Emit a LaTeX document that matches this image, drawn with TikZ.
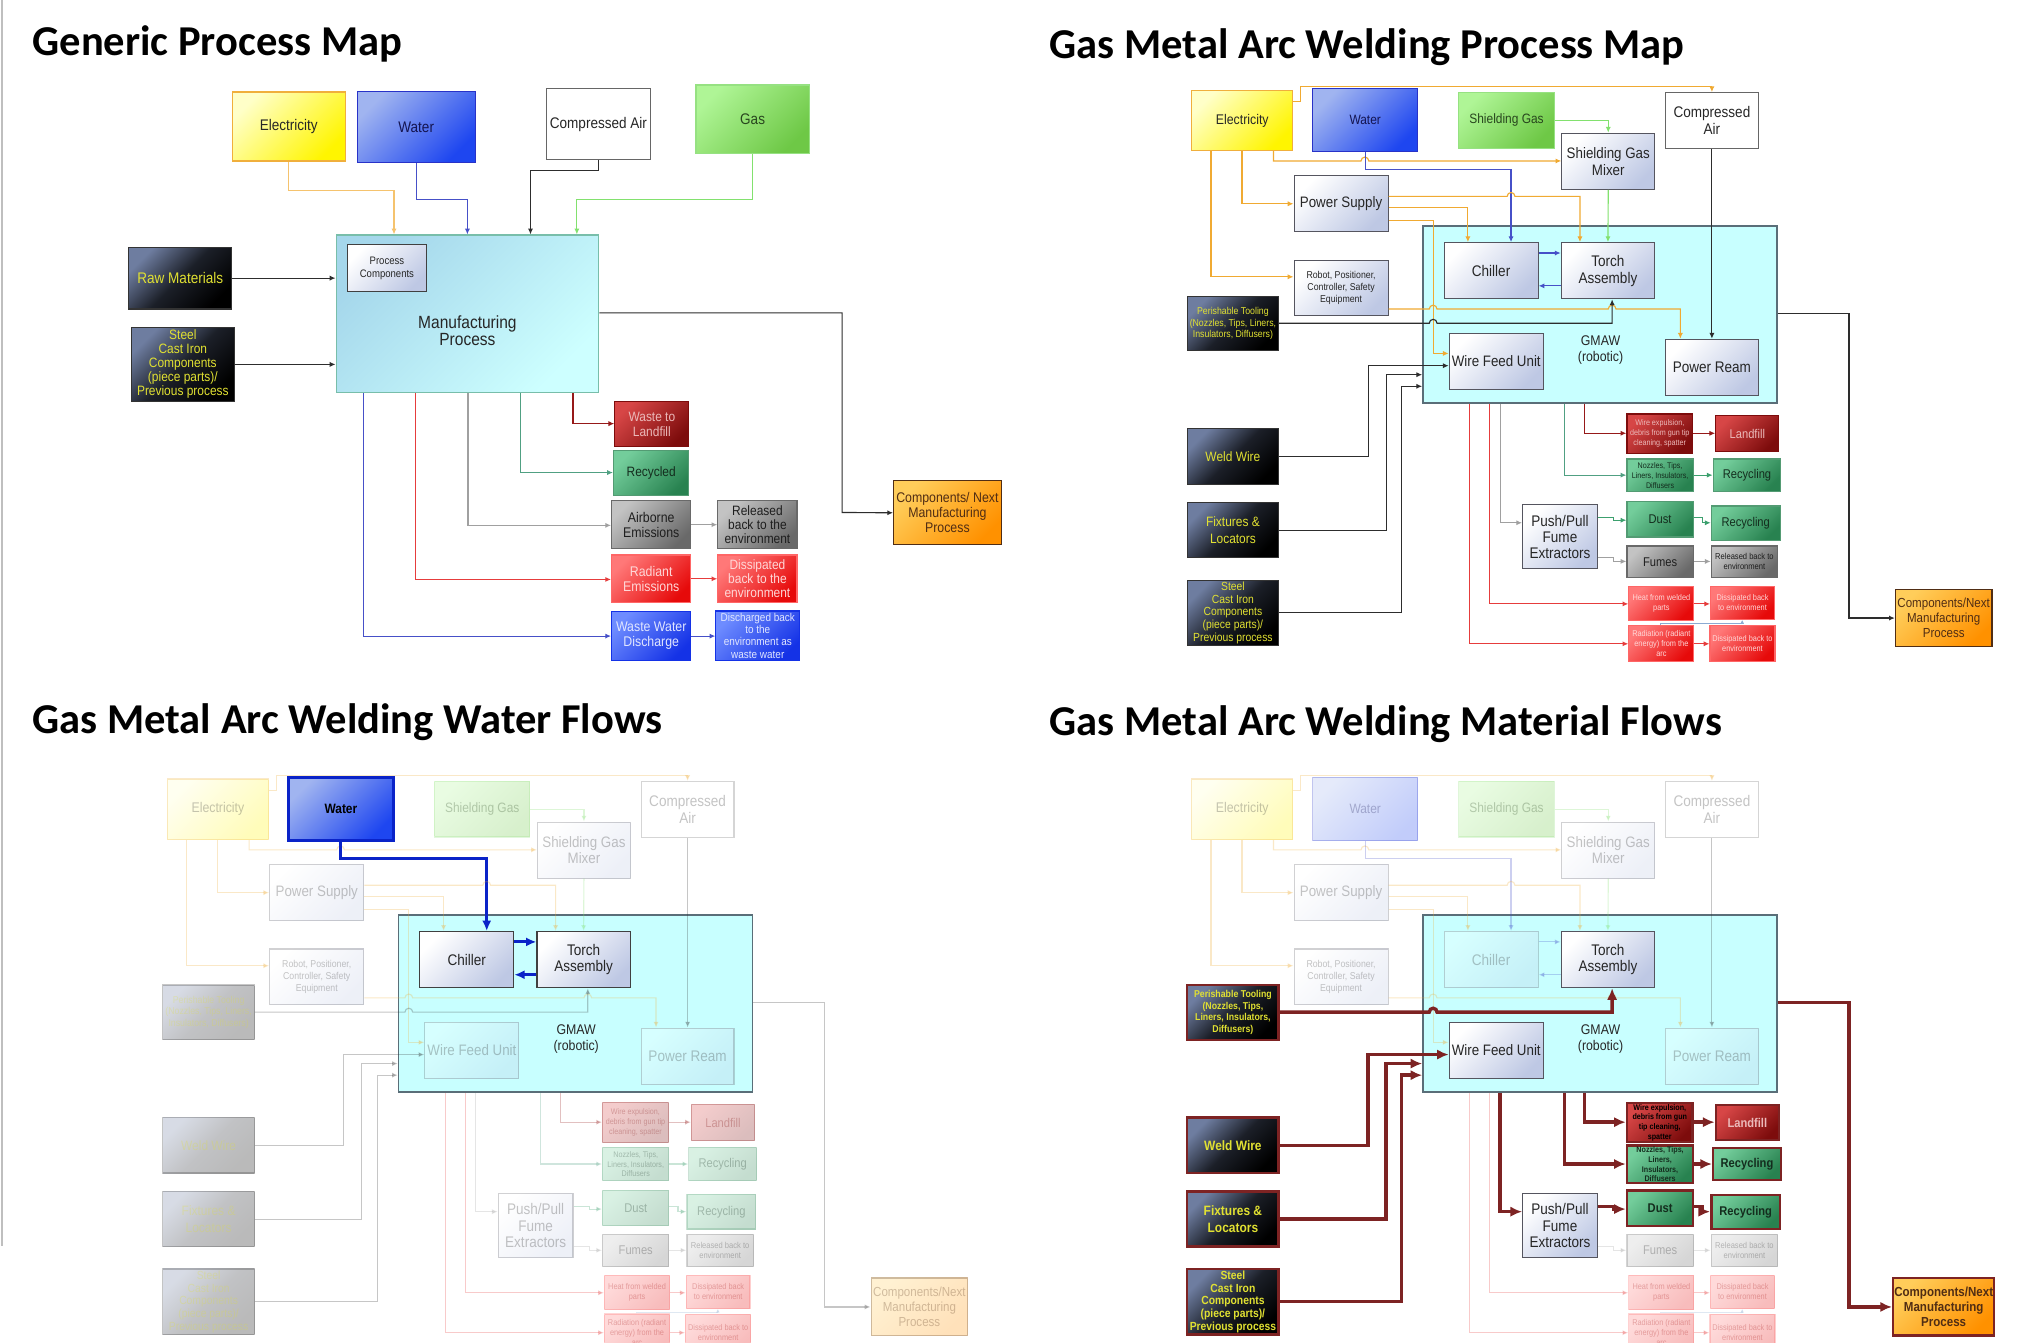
\documentclass[tikz,border=0pt]{standalone}
\usepackage{fontspec}
\setmainfont{Liberation Sans}
\newfontfamily\bxf[FakeStretch=0.88]{Liberation Sans}
\newfontfamily\ttlf{Carlito}
\usetikzlibrary{arrows.meta}

\definecolor{elecA}{RGB}{255,255,200}
\definecolor{elecB}{RGB}{255,245,0}
\definecolor{elecL}{RGB}{240,175,60}
\definecolor{waterA}{RGB}{160,180,240}
\definecolor{waterB}{RGB}{30,70,240}
\definecolor{waterL}{RGB}{40,50,200}
\definecolor{waterT}{RGB}{20,20,80}
\definecolor{gasA}{RGB}{175,245,150}
\definecolor{gasB}{RGB}{110,200,70}
\definecolor{gasL}{RGB}{150,225,130}
\definecolor{gasT}{RGB}{40,70,30}
\definecolor{blkA}{RGB}{110,125,160}
\definecolor{blkT}{RGB}{225,225,50}
\definecolor{liteB}{RGB}{190,200,228}
\definecolor{liteL}{RGB}{85,85,95}
\definecolor{cyanF}{RGB}{200,255,255}
\definecolor{cyanL}{RGB}{90,110,120}
\definecolor{mpA}{RGB}{165,215,235}
\definecolor{mpB}{RGB}{205,255,255}
\definecolor{mpL}{RGB}{120,190,170}
\definecolor{dredA}{RGB}{215,70,70}
\definecolor{dredB}{RGB}{125,12,12}
\definecolor{dredT}{RGB}{235,185,185}
\definecolor{grnA}{RGB}{115,205,155}
\definecolor{grnB}{RGB}{40,130,80}
\definecolor{grnT}{RGB}{20,45,30}
\definecolor{gryA}{RGB}{195,195,195}
\definecolor{gryB}{RGB}{105,105,105}
\definecolor{gryT}{RGB}{30,30,30}
\definecolor{redA}{RGB}{255,120,120}
\definecolor{redB}{RGB}{230,10,10}
\definecolor{redT}{RGB}{255,215,215}
\definecolor{bluA}{RGB}{110,140,255}
\definecolor{bluB}{RGB}{20,50,230}
\definecolor{bluT}{RGB}{225,230,255}
\definecolor{orgA}{RGB}{255,205,90}
\definecolor{orgB}{RGB}{255,145,0}
\definecolor{orgL}{RGB}{80,45,20}
\definecolor{lnOrg}{RGB}{240,170,50}
\definecolor{lnOrgL}{RGB}{245,195,110}
\definecolor{lnBlu}{RGB}{70,80,200}
\definecolor{lnGrn}{RGB}{130,225,110}
\definecolor{lnBlk}{RGB}{45,45,45}
\definecolor{lnGry}{RGB}{160,160,160}
\definecolor{lnDred}{RGB}{150,25,25}
\definecolor{lnTeal}{RGB}{80,160,130}
\definecolor{lnGrnD}{RGB}{60,160,110}
\definecolor{lnRed}{RGB}{230,60,60}
\definecolor{lnSteel}{RGB}{140,170,210}
\definecolor{matC}{RGB}{125,35,35}
\definecolor{hlBlu}{RGB}{10,35,200}

\tikzset{
  plainbox/.style={draw=liteL, line width=0.5pt, inner sep=0.5pt, align=center},
  gr/.style 2 args={top color=#1, bottom color=#2, shading angle=45},
  ft/.style 2 args={font=\bxf\fontsize{#1}{#2}\selectfont},
  ttl/.style={anchor=base west, inner sep=0pt, font=\ttlf\bfseries\fontsize{18.8}{22}\selectfont},
  elecbox/.style={plainbox, gr={elecA}{elecB}, draw=elecL, text=black!85},
  waterbox/.style={plainbox, gr={waterA}{waterB}, draw=waterL, text=waterT},
  gasbox/.style={plainbox, gr={gasA}{gasB}, draw=gasL, text=gasT},
  airbox/.style={plainbox, fill=white, draw=black!60, text=black!85},
  blkbox/.style={plainbox, gr={blkA}{black}, middle color=blkA!25!black, draw=black!80, text=blkT},
  litebox/.style={plainbox, gr={white}{liteB}, draw=liteL, text=black!85},
  holder/.style={plainbox, fill=cyanF, draw=cyanL, line width=0.6pt},
  mpbox/.style={plainbox, gr={mpA}{mpB}, draw=mpL},
  dredbox/.style={plainbox, gr={dredA}{dredB}, draw=dredB, text=dredT},
  grnbox/.style={plainbox, gr={grnA}{grnB}, draw=grnB!80!white, text=grnT},
  grybox/.style={plainbox, gr={gryA}{gryB}, draw=gryB, text=gryT},
  redbox/.style={plainbox, gr={redA}{redB}, draw=red!60!white, text=redT},
  blubox/.style={plainbox, gr={bluA}{bluB}, draw=bluB, text=bluT},
  orgbox/.style={plainbox, gr={orgA}{orgB}, draw=orgL, text=orgL},
  flow/.style={-{Latex[length=0.9mm,width=0.8mm]}, line width=0.5pt},
  fx/.code={\pgfkeysifdefined{/tikz/hl/#1/.@cmd}{\pgfkeysalso{/tikz/hl/#1}}{}},
  wtrbox/.style={opacity=1, draw=hlBlu, line width=1.2pt, text=black, execute at begin node=\bfseries},
  wtrln/.style={opacity=1, draw=hlBlu, line width=1.3pt, -{Latex[length=1.6mm,width=1.4mm]}},
  matbox/.style={opacity=1, draw=matC, line width=1.1pt, execute at begin node=\bfseries},
  matln/.style={opacity=1, draw=matC, line width=1.5pt, -{Latex[length=1.8mm,width=1.6mm]}},
  faded/.style={opacity=0.27, dredbox/.append style={text=dredB}, redbox/.append style={text=redB!70!black}}
}

% box from its corners: style, name, x1, y1, x2, y2, text
\newcommand{\boxat}[7]{\node[#1, minimum width={(#5-#3)*0.02cm}, minimum height={(#6-#4)*0.02cm}] (#2) at ({(#3+#5)/2},{(#4+#6)/2}) {#7};}

\newcommand{\perishtxt}{Perishable Tooling\\(Nozzles, Tips, Liners,\\Insulators, Diffusers)}
\newcommand{\wexptxt}{Wire expulsion,\\debris from gun tip\\cleaning, spatter}
\newcommand{\nozztxt}{Nozzles, Tips,\\Liners, Insulators,\\Diffusers}

% the GMAW map, drawn three times
\newcommand{\gmawmap}{%
  \boxat{holder, fx=gmaw}{gmaw}{1105}{175.5}{1380}{313}{}
  \node[ft={6.2}{7}, align=center, text=black!85, fx=gmaw] (gmawtxt) at (1243,272) {GMAW\\(robotic)};
  % utilities
  \boxat{elecbox, ft={6.2}{7}, fx=elec}{elec}{925.5}{70}{1004}{117}{Electricity}
  \boxat{waterbox, ft={6}{7}, fx=water}{water}{1019.5}{69}{1101}{118}{Water}
  \boxat{gasbox, ft={6}{7}, fx=sgas}{sgas}{1133}{72}{1207}{115}{Shielding Gas}
  \boxat{airbox, ft={6.8}{7.4}, fx=cair}{cair}{1293.5}{72}{1365.5}{115.5}{Compressed\\Air}
  \boxat{litebox, ft={6.7}{7.4}, fx=mixer}{mixer}{1213}{103.5}{1285}{147}{Shielding Gas\\Mixer}
  \boxat{litebox, ft={6.7}{7.4}, fx=psup}{psup}{1005}{136.5}{1078}{180}{Power Supply}
  \boxat{litebox, ft={4.4}{5.3}, fx=robot}{robot}{1005}{202}{1078}{245}{Robot, Positioner,\\Controller, Safety\\Equipment}
  \boxat{litebox, ft={6.8}{7.4}, fx=chill}{chill}{1121.5}{188.5}{1194.5}{232}{Chiller}
  \boxat{litebox, ft={6.8}{7.4}, fx=torch}{torch}{1212.5}{188.5}{1285}{232}{Torch\\Assembly}
  \boxat{litebox, ft={6.7}{7.4}, fx=wfu}{wfu}{1125.5}{259}{1198.5}{302.5}{Wire Feed Unit}
  \boxat{litebox, ft={6.8}{7.4}, fx=ream}{ream}{1293.5}{263.5}{1365.5}{307}{Power Ream}
  % material inputs
  \boxat{blkbox, ft={4.4}{5.2}, fx=perish}{perish}{922}{230}{993}{272.5}{\perishtxt}
  \boxat{blkbox, ft={6}{7.2}, fx=weld}{weld}{922}{333}{993}{376}{Weld Wire}
  \boxat{blkbox, ft={6}{7.2}, fx=fix}{fix}{922}{390.5}{993}{433}{Fixtures \&\\Locators}
  \boxat{blkbox, ft={5.2}{5.6}, fx=steel}{steel}{922}{450.5}{993}{501.5}{Steel\\Cast Iron\\Components\\(piece parts)/\\Previous process}
  % outputs
  \boxat{dredbox, ft={3.6}{4.3}, fx=wexp}{wexp}{1263.5}{321.5}{1314.5}{352}{\wexptxt}
  \boxat{dredbox, ft={5.6}{6.5}, fx=landf}{landf}{1332.5}{323}{1381.5}{350.5}{Landfill}
  \boxat{grnbox, ft={3.6}{4.3}, fx=nozz}{nozz}{1263.5}{356.5}{1315}{382}{\nozztxt}
  \boxat{grnbox, ft={5.6}{6.5}, fx=recy1}{recy1}{1330.5}{356.5}{1383}{381.5}{Recycling}
  \boxat{litebox, ft={6.8}{7.1}, fx=push}{push}{1182.5}{392}{1240.5}{441.5}{Push/Pull\\Fume\\Extractors}
  \boxat{grnbox, ft={5.6}{6.5}, fx=dust}{dust}{1263.5}{389.5}{1315}{417}{Dust}
  \boxat{grnbox, ft={5.6}{6.5}, fx=recy2}{recy2}{1329}{393}{1382.5}{419.5}{Recycling}
  \boxat{grybox, ft={5.6}{6.5}, fx=fumes}{fumes}{1263.5}{424}{1315}{448.5}{Fumes}
  \boxat{grybox, ft={3.8}{4.5}, fx=rel}{rel}{1329}{424}{1380.5}{448.5}{Released back to\\environment}
  \boxat{redbox, ft={3.7}{4.4}, fx=heat}{heat}{1265}{455.5}{1315.5}{482}{Heat from welded\\parts}
  \boxat{redbox, ft={3.7}{4.4}, fx=diss1}{diss1}{1328.5}{455.5}{1378}{481}{Dissipated back\\to environment}
  \boxat{redbox, ft={3.7}{4.4}, fx=rad}{rad}{1265}{485.5}{1315.5}{514}{Radiation (radiant\\energy) from the\\arc}
  \boxat{redbox, ft={3.7}{4.4}, fx=diss2}{diss2}{1328}{486}{1378.5}{514}{Dissipated back to\\environment}
  \boxat{orgbox, ft={5.8}{6.6}, fx=comp}{comp}{1472}{457.5}{1547}{502}{Components/Next\\Manufacturing\\Process}
  % utility lines
  \draw[flow, lnOrg, fx=e1] (elec.east |- 0,79) -| (1010,67) -| (cair.north);
  \draw[flow, lnOrg, fx=e2] (elec.south -| 940.5,0) |- (robot.west |- 0,215);
  \draw[flow, lnOrg, fx=e3] (elec.south -| 964.5,0) |- (psup.west);
  \draw[flow, lnOrg, fx=e4] (elec.south -| 989,0) |- (1057,125) arc[start angle=180, end angle=360, radius=3] -- (mixer.west |- 0,125);
  \draw[flow, lnBlu, fx=ewater] (water.south) |- (1173.5,131.5) -- (chill.north -| 1173.5,0);
  \draw[flow, lnGrn, fx=e5] (sgas.east) -| (mixer.north);
  \draw[flow, lnGrn, fx=e6] (mixer.south) -- (torch.north);
  \draw[flow, lnBlk, fx=e7] (cair.south) -- (ream.north);
  \draw[flow, lnOrg, fx=e8] (psup.east |- 0,152.5) -- (1170.5,152.5) arc[start angle=180, end angle=360, radius=3] -| (torch.north -| 1227,0);
  \draw[flow, lnOrg, fx=e9] (psup.east |- 0,161) -| (chill.north -| 1140,0);
  \draw[flow, lnOrg, fx=e10] (psup.east |- 0,171) -| (1113,274.5) -- (wfu.west |- 0,274.5);
  \draw[flow, lnOrg, fx=e11] (robot.east |- 0,240) -- (1110,240) arc[start angle=180, end angle=360, radius=3] -- (1249,240) arc[start angle=180, end angle=360, radius=3] -| (ream.north -| 1305,0);
  \draw[flow, lnBlu, fx=ewater] (chill.east |- 0,196.5) -- (torch.west |- 0,196.5);
  \draw[flow, lnBlu, fx=ewater] (torch.west |- 0,222) -- (chill.east |- 0,222);
  % material lines
  \draw[flow, lnBlk, fx=eperish] (perish.east |- 0,251) -- (1110,251) arc[start angle=180, end angle=360, radius=3] -| (torch.south -| 1252,0);
  \draw[flow, lnBlk, fx=eweld] (weld.east) -| (1062.5,284) -- (wfu.west |- 0,284);
  \draw[flow, lnBlk, fx=efix] (fix.east) -| (1076.5,291) -- (gmaw.west |- 0,291);
  \draw[flow, lnBlk, fx=esteel] (steel.east) -| (1088.5,300) -- (gmaw.west |- 0,300);
  \draw[flow, lnBlk, fx=ecomp] (gmaw.east |- 0,243.5) -| (1436,480) -- (comp.west |- 0,480);
  % outputs
  \draw[flow, lnRed, fx=erad] (gmaw.south -| 1141.5,0) |- (rad.west |- 0,500);
  \draw[flow, lnRed, fx=eheat] (gmaw.south -| 1157,0) |- (heat.west |- 0,469);
  \draw[flow, lnGry, fx=epush] (gmaw.south -| 1165,0) |- (push.west |- 0,406);
  \draw[flow, lnTeal, fx=enozz] (gmaw.south -| 1215,0) |- (nozz.west |- 0,369);
  \draw[flow, lnDred, fx=ewexp] (gmaw.south -| 1230.5,0) |- (wexp.west |- 0,336.5);
  \draw[flow, lnGrnD, fx=epd] (push.east |- 0,402) -- (1253,402) |- (dust.west |- 0,404);
  \draw[flow, lnGry, fx=epf] (push.east |- 0,433) -- (1253,433) |- (fumes.west |- 0,436);
  \draw[flow, lnGrnD, fx=edr] (dust.east |- 0,402) -- (1322,402) |- (recy2.west |- 0,406);
  \draw[flow, lnGrnD, fx=enr] (nozz.east |- 0,369) -- (recy1.west |- 0,369);
  \draw[flow, lnDred, fx=ewl] (wexp.east |- 0,336.5) -- (landf.west |- 0,336.5);
  \draw[flow, lnGry, fx=efr] (fumes.east |- 0,436) -- (rel.west |- 0,436);
  \draw[flow, lnRed, fx=ehd] (heat.east |- 0,469) -- (diss1.west |- 0,469);
  \draw[flow, lnRed, fx=erd] (rad.east |- 0,500) -- (diss2.west |- 0,500);
  \draw[lnSteel, line width=0.5pt, -{Latex[length=0.6mm,width=0.6mm]}, fx=erx] (rad.north -| 1289.5,0) |- (1353,484) -- (diss1.south -| 1353,0);
}

\begin{document}
\begin{tikzpicture}[x=0.02cm, y=-0.02cm]
  \useasboundingbox (0,0) rectangle (1568,1043);
  \clip (0,0) rectangle (1568,1043);
  \fill[white] (0,0) rectangle (1568,1043);
  \draw[black!25, line width=0.6pt] (1.5,0) -- (1.5,968);

  % ---- generic process map ----
  \node[ttl] (t1) at (25,43) {Generic Process Map};
  \boxat{elecbox, ft={6.8}{7.6}}{gelec}{180.5}{71.5}{268}{125}{Electricity}
  \boxat{waterbox, ft={6.8}{7.6}}{gwater}{277.5}{71}{369}{126}{Water}
  \boxat{airbox, ft={6.8}{7.6}}{gair}{424.5}{69}{505}{124}{Compressed Air}
  \boxat{gasbox, ft={6.8}{7.6}}{ggas}{540.5}{66}{628.5}{119}{Gas}
  \boxat{blkbox, ft={6.8}{7.6}}{graw}{100}{192}{180}{240}{Raw Materials}
  \boxat{blkbox, ft={6}{6.2}}{gsteel}{102}{254.5}{182}{311.5}{Steel\\Cast Iron\\Components\\(piece parts)/\\Previous process}
  \boxat{mpbox}{gmp}{261}{182.5}{465}{305}{}
  \node[ft={7.8}{7.7}, align=center, text=black!85] (gmptxt) at (363,257) {Manufacturing\\Process};
  \boxat{litebox, ft={4.8}{5.6}, draw=black!75}{gpc}{270}{190}{331}{226.5}{Process\\Components}
  \boxat{dredbox, ft={6}{6.6}}{glandf}{477.5}{312}{535}{346.5}{Waste to\\Landfill}
  \boxat{grnbox, ft={6}{6.6}}{grecy}{476.5}{350}{535}{385}{Recycled}
  \boxat{grybox, ft={6.2}{6.6}}{gairb}{475}{389}{536.5}{426}{Airborne\\Emissions}
  \boxat{grybox, ft={6}{6.3}}{grel}{557.5}{389}{619}{426}{Released\\back to the\\environment}
  \boxat{redbox, ft={6.2}{6.6}}{grad}{475}{431}{536.5}{468}{Radiant\\Emissions}
  \boxat{redbox, ft={6}{6.3}}{gdiss}{557.5}{431}{619}{468}{Dissipated\\back to the\\environment}
  \boxat{blubox, ft={6.2}{6.6}}{gww}{475}{475}{536.5}{513}{Waste Water\\Discharge}
  \boxat{blubox, ft={5}{5.4}}{gdis}{556}{474.5}{621}{513}{Discharged back\\to the\\environment as\\waste water}
  \boxat{orgbox, ft={6.2}{6.6}}{gcomp}{694}{373.5}{777.5}{423}{Components/ Next\\Manufacturing\\Process}
  \draw[flow, lnOrgL] (gelec.south) |- (306,148) -- (gmp.north -| 306,0);
  \draw[flow, lnBlu] (gwater.south) |- (363,155) -- (gmp.north -| 363,0);
  \draw[flow, lnBlk] (gair.south) |- (412,132.5) -- (gmp.north -| 412,0);
  \draw[flow, lnGrn] (ggas.south) |- (448,155) -- (gmp.north -| 448,0);
  \draw[flow, lnBlk] (graw.east) -- (gmp.west |- graw.east);
  \draw[flow, lnBlk] (gsteel.east) -- (gmp.west |- gsteel.east);
  \draw[flow, lnBlk] (gmp.east |- 0,243) -| (654,398) -- (gcomp.west);
  \draw[flow, lnDred] (gmp.south -| 445,0) |- (glandf.west |- 0,329);
  \draw[flow, lnTeal] (gmp.south -| 404,0) |- (grecy.west |- 0,367);
  \draw[flow, lnGry] (gmp.south -| 363.5,0) |- (gairb.west |- 0,408);
  \draw[flow, lnRed] (gmp.south -| 322.5,0) |- (grad.west |- 0,450);
  \draw[flow, lnBlu] (gmp.south -| 282,0) |- (gww.west |- 0,494);
  \draw[flow, lnGry] (gairb.east) -- (grel.west);
  \draw[flow, lnRed] (grad.east) -- (gdiss.west);
  \draw[flow, lnBlu] (gww.east) -- (gdis.west |- gww.east);

  % ---- GMAW process map ----
  \node[ttl] (t2) at (815,45.5) {Gas Metal Arc Welding Process Map};
  \begin{scope}[name prefix=pm-]
    \gmawmap
  \end{scope}

  % ---- water flows ----
  \node[ttl] (t3) at (25,570) {Gas Metal Arc Welding Water Flows};
  \begin{scope}[shift={(-795.5,535)}, name prefix=wf-, faded]
    \tikzset{
      hl/gmaw/.style={opacity=1},
      hl/water/.style={wtrbox},
      hl/chill/.style={opacity=1, draw=black!75},
      hl/torch/.style={opacity=1, draw=black!75},
      hl/ewater/.style={wtrln}
    }
    \gmawmap
  \end{scope}

  % ---- material flows ----
  \node[ttl] (t4) at (815,571) {Gas Metal Arc Welding Material Flows};
  \begin{scope}[shift={(0,535)}, name prefix=mf-, faded]
    \def\perishtxt{Perishable Tooling\\(Nozzles, Tips,\\Liners, Insulators,\\Diffusers)}
    \def\wexptxt{Wire expulsion,\\debris from gun\\tip cleaning,\\spatter}
    \def\nozztxt{Nozzles, Tips,\\Liners,\\Insulators,\\Diffusers}
    \tikzset{
      hl/gmaw/.style={opacity=1}, hl/torch/.style={opacity=1},
      hl/wfu/.style={opacity=1}, hl/push/.style={opacity=1},
      hl/perish/.style={matbox}, hl/weld/.style={matbox},
      hl/fix/.style={matbox}, hl/steel/.style={matbox},
      hl/wexp/.style={matbox, text=black}, hl/landf/.style={matbox, text=dredT},
      hl/nozz/.style={matbox}, hl/recy1/.style={matbox},
      hl/dust/.style={matbox}, hl/recy2/.style={matbox}, hl/comp/.style={matbox},
      hl/eperish/.style={matln}, hl/eweld/.style={matln},
      hl/efix/.style={matln}, hl/esteel/.style={matln},
      hl/ecomp/.style={matln}, hl/epush/.style={matln},
      hl/enozz/.style={matln}, hl/ewexp/.style={matln},
      hl/epd/.style={matln}, hl/edr/.style={matln},
      hl/enr/.style={matln}, hl/ewl/.style={matln}
    }
    \gmawmap
  \end{scope}
\end{tikzpicture}
\end{document}
